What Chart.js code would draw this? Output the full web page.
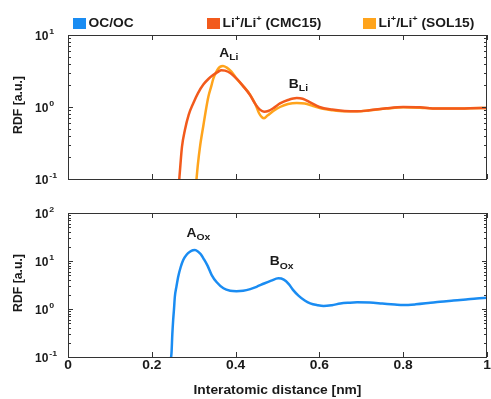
<!DOCTYPE html>
<html>
<head>
<meta charset="utf-8">
<script src="https://cdn.jsdelivr.net/npm/chart.js@4.4.1/dist/chart.umd.min.js"></script>
<style>
html,body{margin:0;padding:0;background:#fff;overflow:hidden;width:491px;height:399px;}
canvas{position:absolute;left:0;}
#top{top:0;}
#bot{top:195px;}
</style>
</head>
<body>
<canvas id="top" width="491" height="195"></canvas>
<canvas id="bot" width="491" height="204"></canvas>
<script>
// ---------- data ----------
const seriesNames = ["OC/OC", "Li^+/Li^+ (CMC15)", "Li^+/Li^+ (SOL15)"];
const seriesColors = ["#1a8cf2", "#f25a1c", "#ffa41c"];
const xTitle = "Interatomic distance [nm]";
const yTitle = "RDF [a.u.]";

const distCMC = [0.265,0.268,0.272,0.279,0.288,0.299,0.310,0.323,0.335,0.347,0.357,0.366,0.375,0.388,0.403,0.418,0.434,0.448,0.458,0.468,0.478,0.492,0.506,0.525,0.546,0.560,0.578,0.600,0.630,0.660,0.690,0.720,0.760,0.800,0.840,0.880,0.920,0.960,1.000];
const rdfCMC  = [0.09,0.15,0.28,0.48,0.78,1.13,1.55,2.05,2.45,2.8,3.05,3.25,3.2,2.95,2.45,1.95,1.48,1.08,0.92,0.86,0.88,0.98,1.12,1.25,1.33,1.3,1.16,1.0,0.92,0.88,0.87,0.9,0.96,1.0,0.99,0.95,0.95,0.96,0.97];

const distSOL = [0.306,0.310,0.315,0.323,0.329,0.335,0.342,0.347,0.353,0.359,0.366,0.370,0.378,0.390,0.403,0.418,0.434,0.447,0.456,0.463,0.468,0.476,0.490,0.506,0.525,0.546,0.565,0.585,0.605,0.630,0.660,0.690,0.720,0.760,0.800,0.840,0.880,0.920,0.960,1.000];
const rdfSOL  = [0.09,0.16,0.28,0.55,0.9,1.39,1.95,2.5,3.0,3.44,3.68,3.72,3.55,3.1,2.45,1.95,1.5,1.1,0.82,0.72,0.70,0.76,0.88,1.0,1.1,1.14,1.12,1.03,0.95,0.9,0.87,0.87,0.9,0.95,0.99,0.98,0.95,0.95,0.96,0.97];

const distOx = [0.244,0.247,0.249,0.251,0.253,0.255,0.259,0.263,0.269,0.275,0.283,0.291,0.298,0.303,0.310,0.317,0.323,0.333,0.343,0.355,0.371,0.387,0.402,0.418,0.435,0.450,0.468,0.485,0.502,0.515,0.527,0.537,0.550,0.565,0.578,0.595,0.610,0.630,0.650,0.670,0.690,0.720,0.750,0.780,0.800,0.830,0.860,0.888,0.920,0.950,0.975,1.000];
const rdfOx  = [0.08,0.12,0.3,0.59,1.0,1.8,3.0,4.7,7.5,10.5,13.5,15.6,16.7,16.9,15.8,13.8,11.4,8.0,5.1,3.6,2.7,2.4,2.35,2.4,2.6,2.9,3.4,3.9,4.36,4.1,3.3,2.5,1.9,1.5,1.31,1.2,1.15,1.2,1.3,1.35,1.38,1.36,1.3,1.24,1.21,1.25,1.33,1.42,1.5,1.58,1.66,1.72];

const topDecades = [-1, 0, 1];
const botDecades = [-1, 0, 1, 2];
const topNotes = [{main:"A", sub:"Li", x:0.384, y:5.45}, {main:"B", sub:"Li", x:0.55, y:2.02}];
const botNotes = [{main:"A", sub:"Ox", x:0.311, y:36.5}, {main:"B", sub:"Ox", x:0.51, y:9.5}];

// ---------- helpers ----------
const FONT = '"Liberation Sans", Arial, Helvetica, sans-serif';
const TXT = '#1a1a1a';
const SX = 1.15; // horizontal stretch of lettering
function pts(xs, ys){ return xs.map((x,i)=>({x:x, y:ys[i]})); }

function txt(ctx, s, x, y, size, align, sx){
  ctx.save();
  ctx.translate(x, y); ctx.scale(sx, 1);
  ctx.font = 'bold '+size+'px '+FONT;
  ctx.textAlign = align; ctx.textBaseline = 'middle';
  ctx.fillText(s, 0, 0);
  const w = ctx.measureText(s).width * sx;
  ctx.restore();
  return w;
}
function width(ctx, s, size, sx){ ctx.font = 'bold '+size+'px '+FONT; return ctx.measureText(s).width*sx; }

function drawRich(ctx, str, x, y, size){
  const segs = [];
  for (let i=0;i<str.length;i++){
    if (str[i]==='^'){ segs.push({t:str[i+1], sup:true}); i++; }
    else { if (segs.length && !segs[segs.length-1].sup) segs[segs.length-1].t += str[i]; else segs.push({t:str[i], sup:false}); }
  }
  let cx = x;
  segs.forEach(s=>{
    if (s.sup) cx += txt(ctx, s.t, cx, y-size*0.4, Math.round(size*0.7), 'left', SX);
    else cx += txt(ctx, s.t, cx, y, size, 'left', SX);
  });
}

function framePlugin(decades, notes, opts){
  return {
    id:'frame',
    afterDatasetsDraw(chart){
      const ctx = chart.ctx, a = chart.chartArea;
      const xs = chart.scales.x, ys = chart.scales.y;
      ctx.save();
      ctx.strokeStyle = '#333'; ctx.lineWidth = 1;
      ctx.strokeRect(Math.round(a.left)+0.5, Math.round(a.top)+0.5, Math.round(a.right-a.left)-1, Math.round(a.bottom-a.top));
      ctx.beginPath();
      xs.ticks.forEach(t=>{
        const px = Math.round(xs.getPixelForValue(t.value))+0.5;
        ctx.moveTo(px, a.bottom); ctx.lineTo(px, a.bottom-5);
        ctx.moveTo(px, a.top); ctx.lineTo(px, a.top+5);
      });
      for (let d=decades[0]; d<=decades[decades.length-1]; d++){
        for (let m=1; m<=9; m++){
          if (d===decades[decades.length-1] && m>1) break;
          const py = Math.round(ys.getPixelForValue(m*Math.pow(10,d)))+0.5;
          const len = m===1 ? 5 : 3;
          ctx.moveTo(a.left, py); ctx.lineTo(a.left+len, py);
          ctx.moveTo(a.right, py); ctx.lineTo(a.right-len, py);
        }
      }
      ctx.stroke();
      ctx.fillStyle = TXT;
      // y labels with superscript exponents
      decades.forEach(d=>{
        const py = ys.getPixelForValue(Math.pow(10,d));
        const w = txt(ctx, '10', 35, py+2, 12, 'left', 1);
        txt(ctx, String(d), 35+w+1, py-3.5, 8, 'left', 1.1);
      });
      // y title
      ctx.save();
      ctx.translate(19, (a.top+a.bottom)/2 - 2);
      ctx.rotate(-Math.PI/2);
      txt(ctx, yTitle, 0, 0, 12, 'center', 1.02);
      ctx.restore();
      // x labels and title
      if (opts.xLabels){
        xs.ticks.forEach(t=>{
          txt(ctx, String(+t.value.toFixed(1)), xs.getPixelForValue(t.value), a.bottom+9, 12, 'center', SX);
        });
        txt(ctx, xTitle, (a.left+a.right)/2, a.bottom+34, 12, 'center', SX);
      }
      // annotations
      notes.forEach(n=>{
        const px = xs.getPixelForValue(n.x), py = ys.getPixelForValue(n.y);
        const w1 = width(ctx, n.main, 12, SX), w2 = width(ctx, n.sub, 9, SX);
        const x0 = px - (w1+w2)/2;
        txt(ctx, n.main, x0, py, 12, 'left', SX);
        txt(ctx, n.sub, x0+w1, py+4, 9, 'left', SX);
      });
      // legend
      if (opts.legend){
        const lx = [73, 207, 363];
        seriesNames.forEach((nm,i)=>{
          ctx.fillStyle = seriesColors[i];
          ctx.fillRect(lx[i], 18, 13, 11);
          ctx.fillStyle = TXT;
          drawRich(ctx, nm, lx[i]+15.5, 24, 12);
        });
      }
      ctx.restore();
    }
  };
}

function makeChart(id, datasets, yMin, yMax, decades, notes, opts){
  return new Chart(document.getElementById(id), {
    type:'line',
    data:{datasets: datasets},
    options:{
      responsive:false, animation:false, devicePixelRatio:1,
      layout:{padding:{left:0, right:4, top:opts.padTop, bottom:0}},
      plugins:{legend:{display:false}, tooltip:{enabled:false}},
      elements:{point:{radius:0}, line:{borderWidth:2.5, cubicInterpolationMode:'monotone'}},
      scales:{
        x:{type:'linear', min:0, max:1,
           grid:{display:false, drawTicks:false}, border:{display:false},
           ticks:{display:false, stepSize:0.2},
           afterFit(s){ s.height = opts.xHeight; }},
        y:{type:'logarithmic', min:yMin, max:yMax,
           grid:{display:false, drawTicks:false}, border:{display:false},
           ticks:{display:false},
           afterFit(s){ s.width = 68; }}
      }
    },
    plugins:[framePlugin(decades, notes, opts)]
  });
}

makeChart('top', [
  {label:seriesNames[1], data:pts(distCMC, rdfCMC), borderColor:seriesColors[1]},
  {label:seriesNames[2], data:pts(distSOL, rdfSOL), borderColor:seriesColors[2]}
], 0.1, 10, topDecades, topNotes, {padTop:35, xHeight:16, xLabels:false, legend:true});

makeChart('bot', [
  {label:seriesNames[0], data:pts(distOx, rdfOx), borderColor:seriesColors[0]}
], 0.1, 100, botDecades, botNotes, {padTop:18, xHeight:42, xLabels:true, legend:false});
</script>
</body>
</html>
